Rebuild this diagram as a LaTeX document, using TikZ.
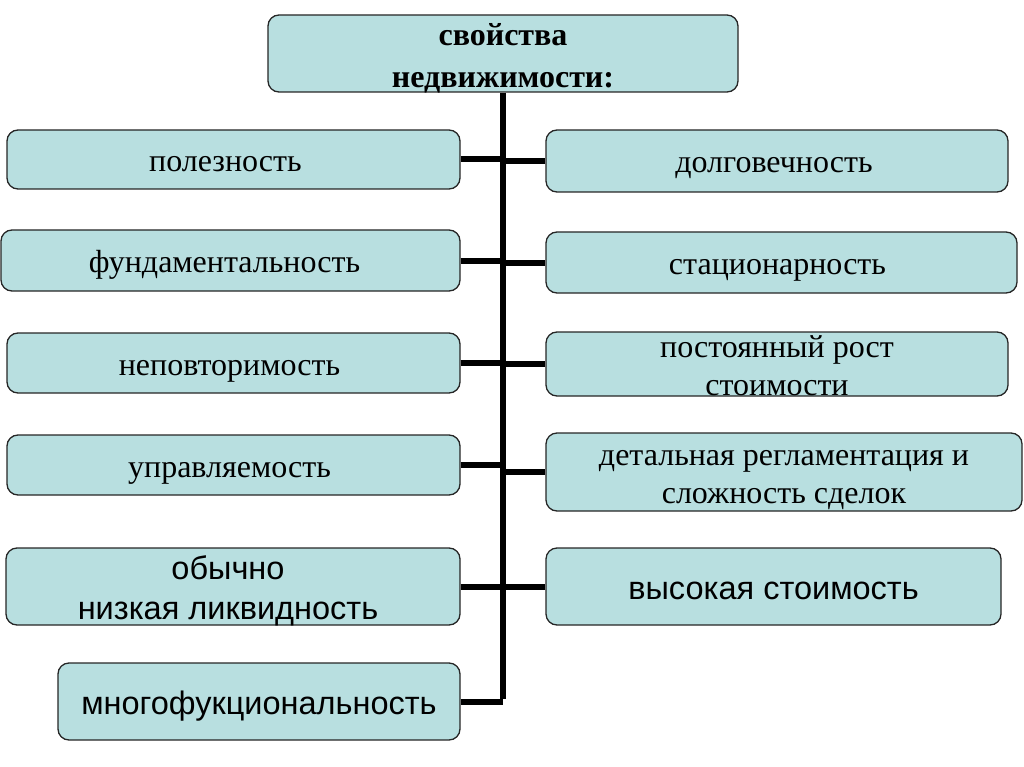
\documentclass[tikz,border=0pt]{standalone}
\usepackage{fontspec}
\setmainfont{Liberation Serif}
\setsansfont{Liberation Sans}
\begin{document}
\begin{tikzpicture}[x=1pt,y=-1pt,
  box/.style={draw=black!85,line width=1.3pt,fill=boxfill,rounded corners=11pt,inner sep=0pt,anchor=center},
  txt/.style={inner sep=0pt,align=center,anchor=center},
  sone/.style={txt,font=\fontsize{32}{38}\selectfont,text height=30pt,text depth=6pt},
  stwo/.style={txt,font=\fontsize{32}{38}\selectfont,text height=68pt,text depth=6pt},
  aone/.style={txt,font=\sffamily\fontsize{32.5}{40}\selectfont,text height=32pt,text depth=6pt},
  atwo/.style={txt,font=\sffamily\fontsize{32.5}{40}\selectfont,text height=71.6pt,text depth=6pt},
  title/.style={txt,font=\bfseries\fontsize{32}{42}\selectfont,text height=75pt,text depth=6pt},
  link/.style={line width=6pt,draw=black}]
\definecolor{boxfill}{RGB}{184,223,224}
\useasboundingbox (0,0) rectangle (1024,767);
\node[box,minimum width=470pt,minimum height=77pt] (top) at (503,53.5) {};
\node[box,minimum width=453pt,minimum height=59pt] (L1) at (233.5,159.5) {};
\node[box,minimum width=459pt,minimum height=61pt] (L2) at (230.5,260.5) {};
\node[box,minimum width=453pt,minimum height=60pt] (L3) at (233.5,363) {};
\node[box,minimum width=453pt,minimum height=60pt] (L4) at (233.5,465) {};
\node[box,minimum width=454pt,minimum height=77pt] (L5) at (233,586.5) {};
\node[box,minimum width=402pt,minimum height=77pt] (L6) at (259,701.5) {};
\node[box,minimum width=462pt,minimum height=62pt] (R1) at (777,161) {};
\node[box,minimum width=471pt,minimum height=61pt] (R2) at (781.5,262.5) {};
\node[box,minimum width=462pt,minimum height=64pt] (R3) at (777,364) {};
\node[box,minimum width=476pt,minimum height=78pt] (R4) at (784,472) {};
\node[box,minimum width=455pt,minimum height=77pt] (R5) at (773.5,586.5) {};
\node[title] (topt) at (top.center) {свойства\\недвижимости:};
\node[sone] (L1t) at ([xshift=-8pt]L1.center) {полезность};
\node[sone] (L2t) at ([xshift=-6pt]L2.center) {фундаментальность};
\node[sone] (L3t) at ([xshift=-4pt]L3.center) {неповторимость};
\node[sone] (L4t) at ([xshift=-4pt]L4.center) {управляемость};
\node[atwo] (L5t) at ([xshift=-5pt]L5.center) {обычно\\низкая ликвидность};
\node[aone] (L6t) at (L6.center) {многофукциональность};
\node[sone] (R1t) at ([xshift=-3pt]R1.center) {долговечность};
\node[sone] (R2t) at ([xshift=-4pt]R2.center) {стационарность};
\node[stwo] (R3t) at (R3.center) {постоянный рост\\стоимости};
\node[stwo] (R4t) at (R4.center) {детальная регламентация и\\сложность сделок};
\node[aone] (R5t) at (R5.center) {высокая стоимость};
\coordinate (bot) at (top.south |- L6.east);
\draw[link] (top.south) -- ([yshift=3pt]bot);
\foreach \n in {L1,L2,L3,L4,L5,L6}{\draw[link] (\n.east) -- (\n.east -| top.south);}
\foreach \n in {R1,R2,R3,R4,R5}{\draw[link] (\n.west) -- (\n.west -| top.south);}
\end{tikzpicture}
\end{document}
